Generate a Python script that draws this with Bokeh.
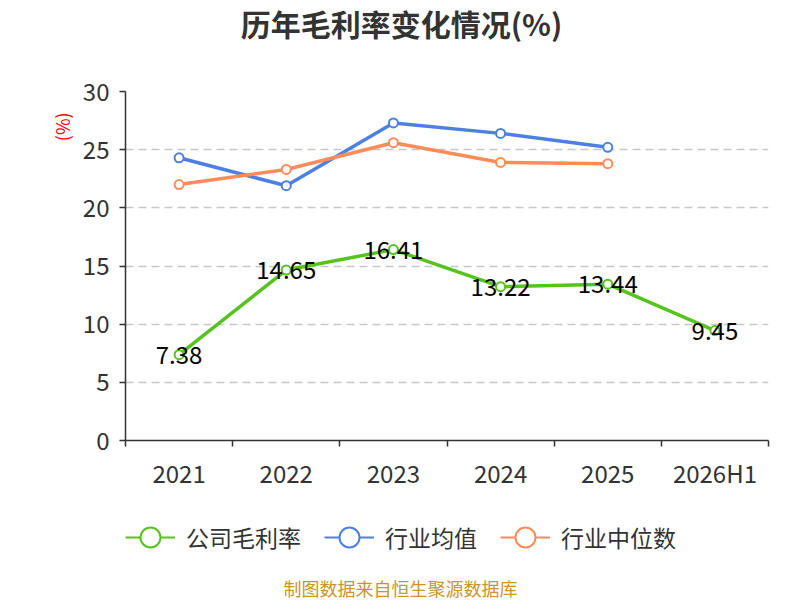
import math
from bokeh.plotting import figure
from bokeh.layouts import column
from bokeh.models import (FixedTicker, Label, Legend, LegendItem, ColumnDataSource,
                          Range1d, LinearAxis)
from bokeh.core.properties import value
from bokeh.embed import file_html
from bokeh.resources import INLINE

categories = ["2021", "2022", "2023", "2024", "2025", "2026H1"]
company = [7.38, 14.65, 16.41, 13.22, 13.44, 9.45]
industry_avg = [24.3, 21.9, 27.3, 26.4, 25.2]
industry_median = [22.0, 23.3, 25.6, 23.9, 23.8]
y_ticks = [0, 5, 10, 15, 20, 25, 30]
series_names = ["公司毛利率", "行业均值", "行业中位数"]
title_text = "历年毛利率变化情况(%)"
unit_text = "(%)"
source_text = "制图数据来自恒生聚源数据库"

FONT = "Noto Sans CJK SC"
GREEN = "#56c31e"
BLUE = "#4d80e3"
ORANGE = "#fd8c5a"
colors = [GREEN, BLUE, ORANGE]

W = 784
FL, FR = 125, 16
FW, FH = W - FL - FR, 349
HEAD_H = 65
TOP_PAD = 26
BOTTOM_PAD = 60
FOOT_H = 100


def blank(h):
    b = figure(frame_width=FW, frame_height=h, output_backend="svg",
               toolbar_location=None, x_range=Range1d(0, FW), y_range=Range1d(0, h),
               x_axis_type=None, y_axis_type=None, min_border_left=FL,
               min_border_right=FR, min_border_top=0, min_border_bottom=0)
    b.outline_line_color = None
    b.xgrid.visible = False
    b.ygrid.visible = False
    return b


# header with title
hdr = blank(HEAD_H)
hdr.add_layout(Label(x=276, y=HEAD_H - 22, text=title_text, text_align="center",
                     text_baseline="middle", text_font=FONT, text_font_size="30px",
                     text_font_style="bold", text_color="#333333"))

# main chart
p = figure(frame_width=FW, frame_height=FH, output_backend="svg", toolbar_location=None,
           x_range=Range1d(0, len(categories)), y_range=Range1d(0, 30),
           min_border_left=FL, min_border_right=FR, min_border_top=TOP_PAD,
           min_border_bottom=BOTTOM_PAD)
p.outline_line_color = None
p.background_fill_color = "white"

xc = [i + 0.5 for i in range(len(categories))]

p.xaxis.ticker = FixedTicker(ticks=xc, minor_ticks=list(range(len(categories) + 1)))
p.xaxis.major_label_overrides = {x: c for x, c in zip(xc, categories)}
p.xaxis.major_tick_out = 0
p.xaxis.major_tick_in = 0
p.xaxis.minor_tick_out = 6
p.xaxis.minor_tick_in = 0
p.xaxis.minor_tick_line_color = "#333333"
p.xaxis.minor_tick_line_width = 1.5
p.xaxis.axis_line_color = "#333333"
p.xaxis.axis_line_width = 1.5
p.xaxis.major_label_text_font = FONT
p.xaxis.major_label_text_font_size = "24px"
p.xaxis.major_label_text_color = "#333333"
p.xaxis.major_label_standoff = 8

p.yaxis.ticker = FixedTicker(ticks=y_ticks)
p.yaxis.major_tick_out = 6
p.yaxis.major_tick_in = 0
p.yaxis.minor_tick_out = 0
p.yaxis.minor_tick_in = 0
p.yaxis.major_tick_line_color = "#333333"
p.yaxis.major_tick_line_width = 1.5
p.yaxis.axis_line_color = "#333333"
p.yaxis.axis_line_width = 1.5
p.yaxis.major_label_text_font = FONT
p.yaxis.major_label_text_font_size = "24px"
p.yaxis.major_label_text_color = "#333333"
p.yaxis.major_label_standoff = 10

UNIT_POS = 28.2
ua = LinearAxis(ticker=FixedTicker(ticks=[UNIT_POS]),
                major_label_overrides={UNIT_POS: unit_text},
                major_label_orientation=math.pi / 2,
                axis_line_color=None, major_tick_line_color=None,
                minor_tick_line_color=None, major_label_text_color="#ff0000",
                major_label_text_font=FONT, major_label_text_font_size="18px",
                major_label_standoff=11)
p.add_layout(ua, "left")

p.xgrid.grid_line_color = None
p.ygrid.ticker = FixedTicker(ticks=y_ticks[1:])
p.ygrid.grid_line_color = "#c8c8c8"
p.ygrid.grid_line_width = 1.5
p.ygrid.grid_line_dash = "8 5"

all_series = [company, industry_avg, industry_median]
for vals, color in zip(all_series, colors):
    src = ColumnDataSource(dict(x=xc[:len(vals)], y=vals))
    p.line("x", "y", source=src, line_color=color, line_width=3.5)
    p.scatter("x", "y", source=src, size=9, fill_color="white",
              line_color=color, line_width=2)

lab_src = ColumnDataSource(dict(x=xc, y=company, t=[f"{v:.2f}" for v in company]))
p.text("x", "y", text="t", source=lab_src, text_align="center",
       text_baseline="middle", text_font=value(FONT), text_font_size="24px",
       text_color="#000000")

# footer: legend + source
f = blank(FOOT_H)
r_items = []
for name, vals, color in zip(series_names, all_series, colors):
    src = ColumnDataSource(dict(x=xc[:len(vals)], y=vals))
    ln = f.line("x", "y", source=src, line_color=color, line_width=2, visible=False)
    sc = f.scatter("x", "y", source=src, size=20, fill_color="white",
                   line_color=color, line_width=2, visible=False)
    r_items.append(LegendItem(label=name, renderers=[ln, sc]))

legend = Legend(items=r_items, orientation="horizontal", location=(0, 38),
                label_text_font=FONT, label_text_font_size="23px",
                label_text_color="#333333", glyph_width=50, glyph_height=50,
                spacing=23, label_standoff=11, border_line_color=None,
                background_fill_alpha=0, margin=0, padding=0)
f.add_layout(legend, "center")

f.add_layout(Label(x=275, y=13, text=source_text, text_align="center",
                   text_baseline="middle", text_font=FONT, text_font_size="18px",
                   text_color="#c9952d"))

layout = column(hdr, p, f, spacing=0)
open("out.html", "w").write(file_html(layout, INLINE))
